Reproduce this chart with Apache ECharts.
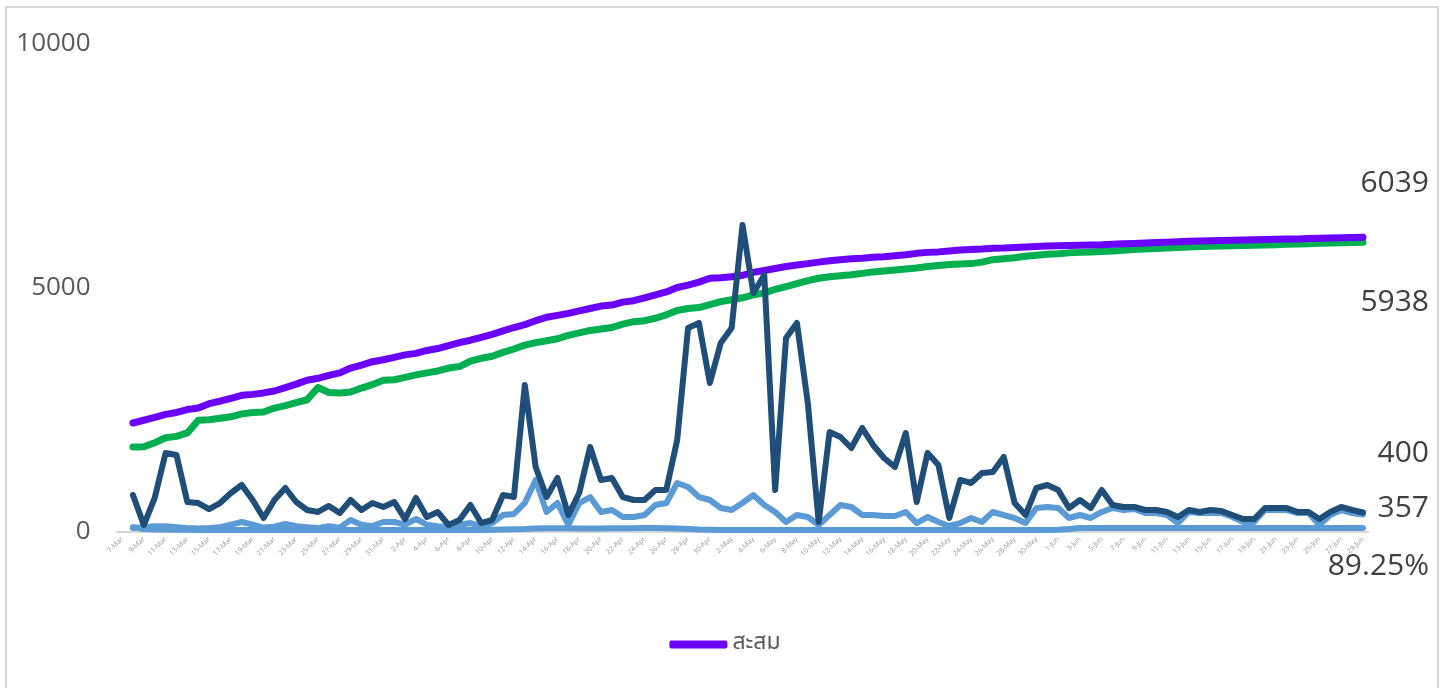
<!DOCTYPE html>
<html>
<head>
<meta charset="utf-8">
<script src="https://cdn.jsdelivr.net/npm/echarts@6/dist/echarts.min.js"></script>
<style>
html,body{margin:0;padding:0;background:#fff;}
#chart{width:1450px;height:688px;}
</style>
</head>
<body>
<div id="chart"></div>
<script>
const categories = [
'7-Mar','8-Mar','9-Mar','10-Mar','11-Mar','12-Mar','13-Mar','14-Mar','15-Mar','16-Mar','17-Mar','18-Mar','19-Mar','20-Mar','21-Mar','22-Mar','23-Mar','24-Mar','25-Mar','26-Mar','27-Mar','28-Mar','29-Mar','30-Mar','31-Mar',
'1-Apr','2-Apr','3-Apr','4-Apr','5-Apr','6-Apr','7-Apr','8-Apr','9-Apr','10-Apr','11-Apr','12-Apr','13-Apr','14-Apr','15-Apr','16-Apr','17-Apr','18-Apr','19-Apr','20-Apr','21-Apr','22-Apr','23-Apr','24-Apr','25-Apr','26-Apr','27-Apr','28-Apr','29-Apr','30-Apr',
'1-May','2-May','3-May','4-May','5-May','6-May','7-May','8-May','9-May','10-May','11-May','12-May','13-May','14-May','15-May','16-May','17-May','18-May','19-May','20-May','21-May','22-May','23-May','24-May','25-May','26-May','27-May','28-May','29-May','30-May','31-May',
'1-Jun','2-Jun','3-Jun','4-Jun','5-Jun','6-Jun','7-Jun','8-Jun','9-Jun','10-Jun','11-Jun','12-Jun','13-Jun','14-Jun','15-Jun','16-Jun','17-Jun','18-Jun','19-Jun','20-Jun','21-Jun','22-Jun','23-Jun','24-Jun','25-Jun','26-Jun','27-Jun','28-Jun','29-Jun'
];

// cumulative (สะสม)
const cumulative = [null,
2234,2290,2350,2410,2450,2510,2540,2630,2680,2740,2800,2820,2850,2890,2960,3030,3110,3150,3210,3260,3360,3420,3490,3530,
3580,3630,3660,3720,3760,3820,3880,3930,3990,4050,4120,4190,4250,4330,4400,4440,4480,4530,4580,4630,4650,4710,4740,4800,4860,4920,
5010,5060,5120,5200,5210,5230,5260,5320,5360,5400,5440,5470,5500,5530,5560,5580,5600,5610,5630,5640,5660,5680,5710,5730,5740,5760,5780,5790,5800,5815,5820,
5830,5840,5850,5860,5865,5870,5875,5880,5885,5895,5905,5912,5920,5930,5940,5950,5958,5963,5970,5975,5980,5983,5988,5993,5998,6002,6006,6012,6018,6024,6030,6035,6039
];

// second cumulative series (green)
const cumulative2 = [null,
1742,1745,1830,1930,1960,2030,2290,2300,2330,2360,2420,2450,2460,2540,2590,2650,2710,2960,2860,2850,2870,2950,3020,3110,
3120,3170,3220,3260,3300,3360,3390,3500,3560,3600,3680,3750,3830,3880,3920,3960,4030,4080,4130,4160,4190,4260,4310,4330,4380,4450,
4540,4580,4600,4660,4720,4760,4800,4860,4900,4970,5030,5090,5150,5200,5230,5250,5270,5300,5330,5350,5370,5390,5410,5440,5460,5480,5490,5500,5530,5580,5600,
5620,5650,5670,5690,5700,5720,5730,5740,5750,5760,5775,5790,5800,5810,5820,5830,5840,5850,5855,5860,5865,5870,5875,5880,5888,5895,5902,5908,5915,5920,5926,5932,5938
];

// daily series (dark blue)
const daily = [null,
758,143,697,1619,1578,615,594,471,594,799,963,656,287,656,902,615,451,410,533,389,656,451,594,512,
615,266,697,307,410,143,246,553,184,246,758,717,3012,1332,717,1107,348,799,1742,1066,1107,717,656,656,861,861,
1885,4180,4283,3053,3873,4180,6291,4898,5266,861,3975,4283,2643,205,2049,1947,1721,2131,1783,1516,1332,2029,615,1619,1373,287,1066,1004,1209,1230,1537,
594,348,902,963,861,492,656,492,861,553,512,512,451,451,410,307,451,410,451,430,348,266,266,492,492,492,410,410,266,410,512,451,400
];

// daily series (light blue)
const daily2 = [null,
82,100,120,120,100,80,70,80,100,150,205,150,90,110,164,120,100,80,120,90,246,150,120,205,
205,150,266,150,120,100,150,184,120,184,348,369,594,1066,410,594,143,594,717,410,451,307,307,348,553,594,
1004,922,717,656,492,451,594,758,553,410,205,348,307,143,348,553,512,348,348,328,328,410,184,307,205,123,184,287,205,410,348,
287,184,492,512,492,287,348,287,410,492,451,471,389,389,348,184,410,389,389,389,307,205,205,451,451,451,389,389,143,348,451,389,357
];

// low series (light blue, near zero)
const low = [null,
100,60,50,50,45,45,40,40,40,40,40,40,40,40,40,40,40,40,40,40,40,40,40,40,
40,40,40,40,40,40,40,40,40,45,50,55,60,70,75,75,75,70,70,70,75,75,75,80,80,75,
70,60,50,45,40,40,40,40,40,40,40,40,40,40,40,40,40,40,40,40,40,40,40,40,40,40,40,40,40,40,40,
40,40,40,40,45,60,80,82,82,82,82,82,82,82,82,82,82,82,82,82,82,82,82,82,82,82,82,82,82,82,82,82,82
];

const endLabels = ['6039','5938','400','357','89.25%'];
const legendNames = ['สะสม'];

const chart = echarts.init(document.getElementById('chart'));
const lineBase = {type:'line', symbol:'none', showSymbol:false, smooth:false, connectNulls:false};
const labelFont = '"Open Sans","Noto Sans","DejaVu Sans",sans-serif';
const thaiFont = '"Noto Sans Thai","Loma","Garuda","Tlwg Typo","DejaVu Sans","Noto Sans",sans-serif';
const labelY = [183, 302, 453, 508, 566];

chart.setOption({
  animation:false,
  backgroundColor:'#ffffff',
  grid:{left:116.6, right:81.6, top:44, bottom:156, containLabel:false},
  legend:{
    data:legendNames, left:'center', top:628, icon:'roundRect', itemWidth:58, itemHeight:8, itemGap:4,
    textStyle:{fontSize:23, color:'#595959', fontFamily:thaiFont}
  },
  xAxis:{
    type:'category', data:categories, boundaryGap:true,
    axisLine:{show:true, lineStyle:{color:'#d9d9d9', width:2}},
    axisTick:{show:false},
    axisLabel:{interval:1, rotate:45, fontSize:7, color:'#9a9a9a', margin:6, fontFamily:labelFont},
    splitLine:{show:false}
  },
  yAxis:{
    type:'value', min:0, max:10000, interval:5000,
    axisLine:{show:false}, axisTick:{show:false}, splitLine:{show:false},
    axisLabel:{fontSize:26, color:'#595959', margin:26, fontFamily:labelFont, formatter:function(v){return String(v);}}
  },
  series:[
    Object.assign({}, lineBase, {name:'low', data:low, lineStyle:{color:'#5B9BD5', width:6, cap:'round', join:'round'}, itemStyle:{color:'#5B9BD5'}}),
    Object.assign({}, lineBase, {name:'daily2', data:daily2, lineStyle:{color:'#5B9BD5', width:6, cap:'round', join:'round'}, itemStyle:{color:'#5B9BD5'}}),
    Object.assign({}, lineBase, {name:'cumulative2', data:cumulative2, lineStyle:{color:'#00B050', width:7, cap:'round', join:'round'}, itemStyle:{color:'#00B050'}}),
    Object.assign({}, lineBase, {name:'สะสม', data:cumulative, lineStyle:{color:'#6B00FF', width:7, cap:'round', join:'round'}, itemStyle:{color:'#6B00FF'}}),
    Object.assign({}, lineBase, {name:'daily', data:daily, lineStyle:{color:'#1F4E79', width:6, cap:'round', join:'round'}, itemStyle:{color:'#1F4E79'}})
  ],
  graphic:[
    {type:'rect', silent:true, shape:{x:6, y:7, width:1432, height:720}, style:{fill:'none', stroke:'#d9d9d9', lineWidth:2}},
  ].concat(endLabels.map((t,k)=>({
    type:'text', silent:true, x:1429, y:labelY[k],
    style:{text:t, font:'30px ' + labelFont, fill:'#404040', align:'right', verticalAlign:'middle'}
  })))
});
</script>
</body>
</html>
